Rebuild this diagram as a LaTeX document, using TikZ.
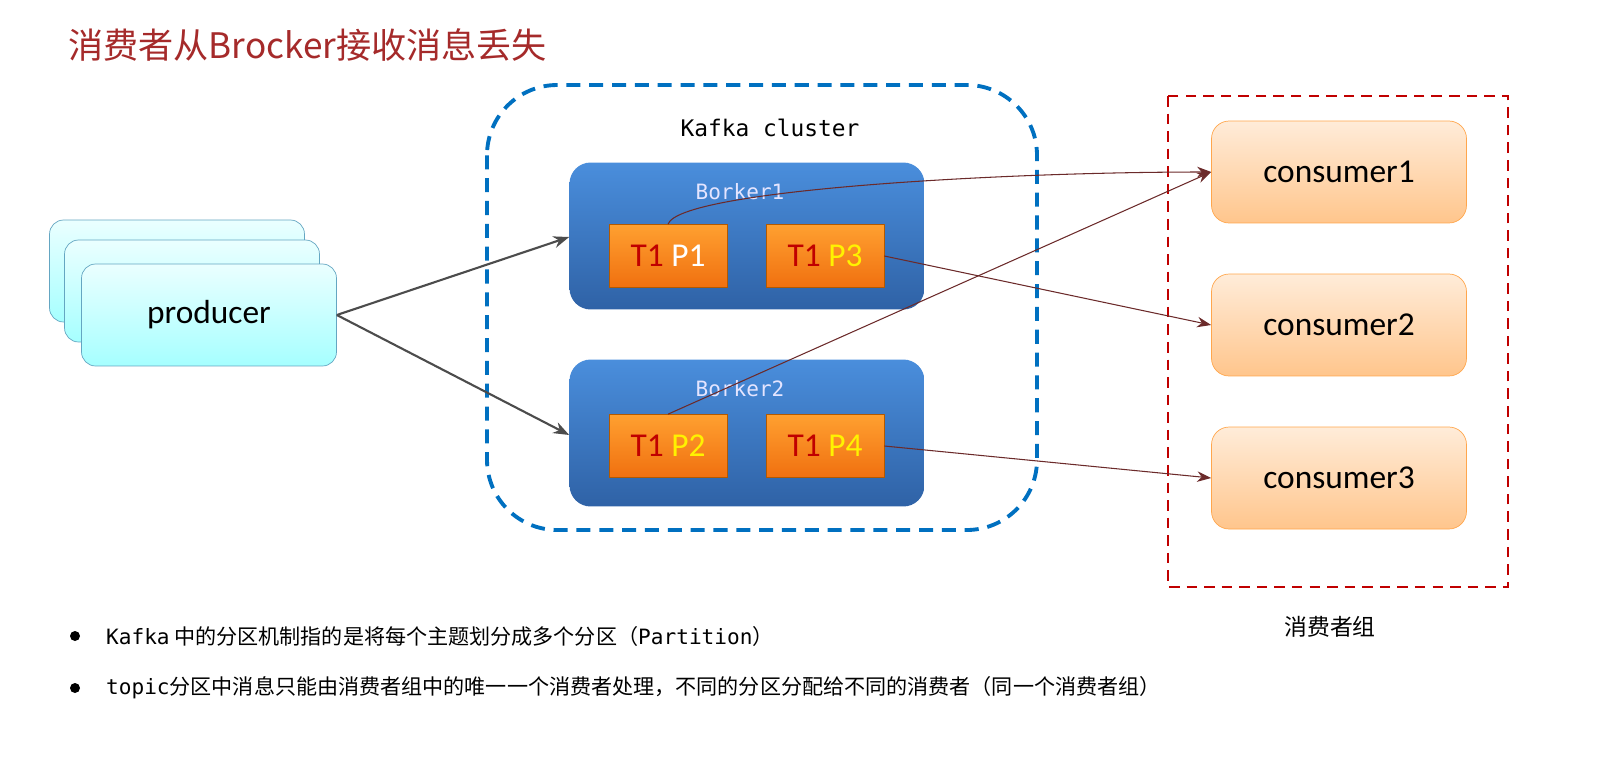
\documentclass[tikz,border=0pt]{standalone}
\usepackage{fontspec}
\setmainfont{Carlito}
\newfontfamily\cjk{Noto Sans CJK SC}
\newfontfamily\mono{DejaVu Sans Mono}
\usetikzlibrary{arrows.meta}
\definecolor{tred}{HTML}{A52A2A}
\definecolor{cblue}{HTML}{0070C0}
\definecolor{cdred}{HTML}{C00000}
\definecolor{arr}{HTML}{6B2A2A}
\definecolor{btop}{HTML}{4A8EDC}
\definecolor{bbot}{HTML}{2F62A6}
\definecolor{ptop}{HTML}{FFA030}
\definecolor{pbot}{HTML}{F07010}
\begin{document}
\begin{tikzpicture}[x=0.02cm,y=-0.02cm,
 broker/.style={draw=none,rounded corners=12pt,top color=btop,bottom color=bbot,inner sep=0},
 part/.style={draw=orange!70!black,top color=ptop,bottom color=pbot,minimum width=2.36cm,minimum height=1.26cm,inner sep=0,font=\fontsize{19}{21}\selectfont},
 prod/.style={draw=cyan!50!gray,rounded corners=8pt,top color=cyan!8,bottom color=cyan!35,minimum width=5.1cm,minimum height=2.04cm},
 cons/.style={draw=orange!70,rounded corners=10pt,top color=orange!15,bottom color=orange!45,minimum width=5.1cm,minimum height=2.04cm,font=\fontsize{19}{21}\selectfont},
 parr/.style={-{Stealth[length=9pt]},draw=black!70,line width=1.2pt},
 carr/.style={-{Stealth[length=8pt]},draw=arr,line width=0.6pt}]
\node[anchor=west,text=tred,font=\cjk\fontsize{20}{22}\selectfont] (title) at (62,45) {消费者从Brocker接收消息丢失};
\draw[cblue,line width=2.2pt,dash pattern=on 8pt off 5pt,rounded corners=40pt] (487,85) rectangle (1037,530);
\node[font=\mono\fontsize{13}{15}\selectfont] (kc) at (770,128) {Kafka cluster};
\draw[cdred,line width=1.5pt,dash pattern=on 6pt off 4pt] (1168,96) rectangle (1508,587);
\node[font=\cjk\fontsize{13}{15}\selectfont] (grp) at (1330,627) {消费者组};
\node[prod] (p3) at (177,271) {};
\node[prod] (p2) at (192,291) {};
\node[prod,font=\fontsize{19}{21}\selectfont] (prod) at (209,315) {producer};
\node[broker,minimum width=7.1cm,minimum height=2.94cm] (b1) at (747,236) {};
\node[text=white!90!blue,font=\mono\fontsize{12}{14}\selectfont] (b1t) at (740,192) {Borker1};
\node[broker,minimum width=7.1cm,minimum height=2.94cm] (b2) at (747,433) {};
\node[text=white!90!blue,font=\mono\fontsize{12}{14}\selectfont] (b2t) at (740,389) {Borker2};
\node[part] (tp1) at (668,256) {\textcolor{cdred}{T1} \textcolor{white}{P1}};
\node[part] (tp3) at (825,256) {\textcolor{cdred}{T1} \textcolor{yellow}{P3}};
\node[part] (tp2) at (668,446) {\textcolor{cdred}{T1} \textcolor{yellow}{P2}};
\node[part] (tp4) at (825,446) {\textcolor{cdred}{T1} \textcolor{yellow}{P4}};
\node[cons] (c1) at (1339,172) {consumer1};
\node[cons] (c2) at (1339,325) {consumer2};
\node[cons] (c3) at (1339,478) {consumer3};
\draw[parr] (prod.east) -- (b1.west |- 0,237);
\draw[parr] (prod.east) -- (b2.west |- 0,435);
\draw[carr] (tp1.north) .. controls (680,190) and (1000,172) .. (c1.west);
\draw[carr] (tp3.east) -- (c2.west);
\draw[carr] (tp2.north) -- (c1.west);
\draw[carr] (tp4.east) -- (c3.west);
\fill (75,636) circle (5);
\fill (75,688) circle (5);
\node[anchor=west,font=\cjk\fontsize{12}{14}\selectfont] (l1) at (100,636) {{\mono Kafka} 中的分区机制指的是将每个主题划分成多个分区（{\mono Partition}）};
\node[anchor=west,font=\cjk\fontsize{12}{14}\selectfont] (l2) at (100,688) {{\mono topic}分区中消息只能由消费者组中的唯一一个消费者处理，不同的分区分配给不同的消费者（同一个消费者组）};
\pgfresetboundingbox
\useasboundingbox (0,0) rectangle (1619,758);
\end{tikzpicture}
\end{document}
